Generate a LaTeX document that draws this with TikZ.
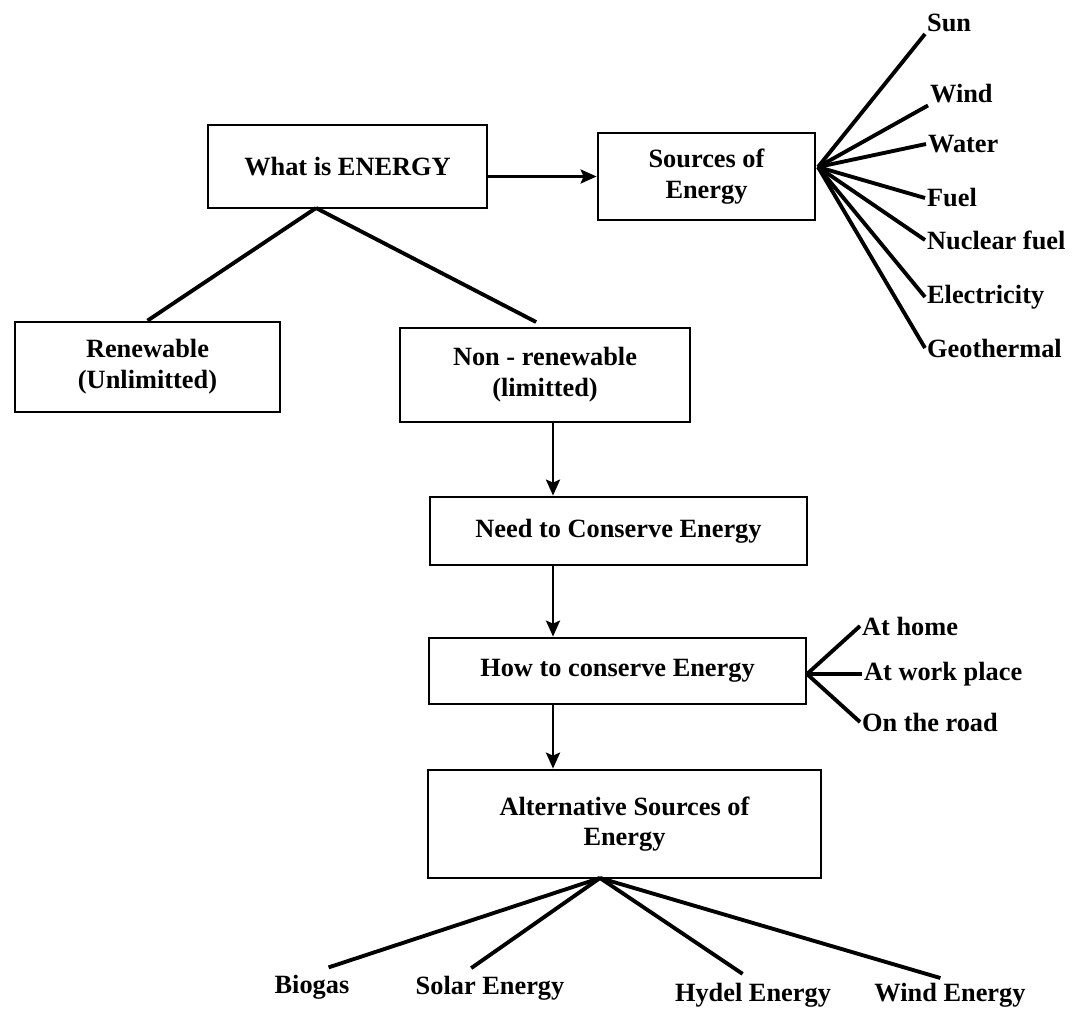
\documentclass[tikz,border=0pt]{standalone}
\usepackage{fontspec}
\setmainfont{Liberation Serif}
\usepackage{tikz}
\usetikzlibrary{arrows.meta}

\begin{document}
\begin{tikzpicture}[> = {Stealth[length=3.2mm, width=2.8mm, inset=0.6mm]}, x=0.02cm, y=-0.02cm,
		txt/.style={font=\bfseries\fontsize{15}{17.5}\selectfont},
		box/.style={txt, draw, line width=1.6pt, align=center, inner sep=2pt},
		lbl/.style={txt, inner sep=1pt},
		branch/.style={line width=2.2pt},
		flow/.style={->, line width=1.6pt}]
	\useasboundingbox (0,0) rectangle (1085,1009);

	% caixas
	\node [box, minimum width=5.58cm, minimum height=1.66cm] (what) at (347.5,166.5) {What is ENERGY};
	\node [box, minimum width=4.34cm, minimum height=1.74cm] (sources) at (706.5,176.5) {Sources of\\Energy};
	\node [box, minimum width=5.3cm, minimum height=1.8cm] (renew) at (147.5,367) {Renewable\\(Unlimitted)};
	\node [box, minimum width=5.8cm, minimum height=1.88cm] (nonren) at (545,375) {Non - renewable\\(limitted)};
	\node [box, minimum width=7.54cm, minimum height=1.36cm] (need) at (618.5,531) {Need to Conserve Energy};
	\node [box, minimum width=7.54cm, minimum height=1.32cm] (how) at (617.5,671) {How to conserve Energy};
	\node [box, minimum width=7.86cm, minimum height=2.16cm] (alt) at (624.5,824) {Alternative Sources of\\Energy};

	% pontos de partida
	\coordinate (whatfoot) at (316,208);
	\coordinate (srcfan) at (818,167);
	\coordinate (howfan) at (807,674);
	\coordinate (altfan) at (600,878);
	\coordinate (spine) at (553,0);

	% fontes de energia
	\node [lbl, anchor=west] (sun) at (925,23) {Sun};
	\node [lbl, anchor=west] (wind) at (928,94) {Wind};
	\node [lbl, anchor=west] (water) at (926,144) {Water};
	\node [lbl, anchor=west] (fuel) at (925,198) {Fuel};
	\node [lbl, anchor=west] (nuclear) at (925,240) {Nuclear fuel};
	\node [lbl, anchor=west] (elec) at (925,297) {Electricity};
	\node [lbl, anchor=west] (geo) at (925,348) {Geothermal};
	\draw [branch] (srcfan) -- (sun.south west);
	\draw [branch] (srcfan) -- (wind.south west);
	\foreach \s in {water, fuel, nuclear, elec, geo}
		\draw [branch] (srcfan) -- (\s.west);

	% onde conservar
	\node [lbl, anchor=west] (home) at (860,626) {At home};
	\node [lbl, anchor=west] (work) at (862,674) {At work place};
	\node [lbl, anchor=west] (road) at (860,722) {On the road};
	\foreach \s in {home, work, road}
		\draw [branch] (howfan) -- (\s.west);

	% fontes alternativas
	\node [lbl] (biogas) at (312,987) {Biogas};
	\node [lbl] (solar) at (490,988) {Solar Energy};
	\node [lbl] (hydel) at (753,995) {Hydel Energy};
	\node [lbl] (windE) at (950,995) {Wind Energy};
	\draw [branch, shorten >=3.5mm] (altfan) -- (biogas.north);
	\draw [branch, shorten >=2mm] (altfan) -- ([xshift=-0.54cm]solar.north);
	\draw [branch, shorten >=2.5mm] (altfan) -- (hydel.north);
	\draw [branch, shorten >=2mm] (altfan) -- (windE.north);

	% tipos de energia
	\draw [branch] (whatfoot) -- (renew.north);
	\draw [branch, shorten >=2mm] (whatfoot) -- (nonren.north);

	% setas
	\draw [flow] (what.east |- sources.west) -- (sources.west);
	\draw [flow] (nonren.south -| spine) -- (need.north -| spine);
	\draw [flow] (need.south -| spine) -- (how.north -| spine);
	\draw [flow] (how.south -| spine) -- (alt.north -| spine);
\end{tikzpicture}
\end{document}
